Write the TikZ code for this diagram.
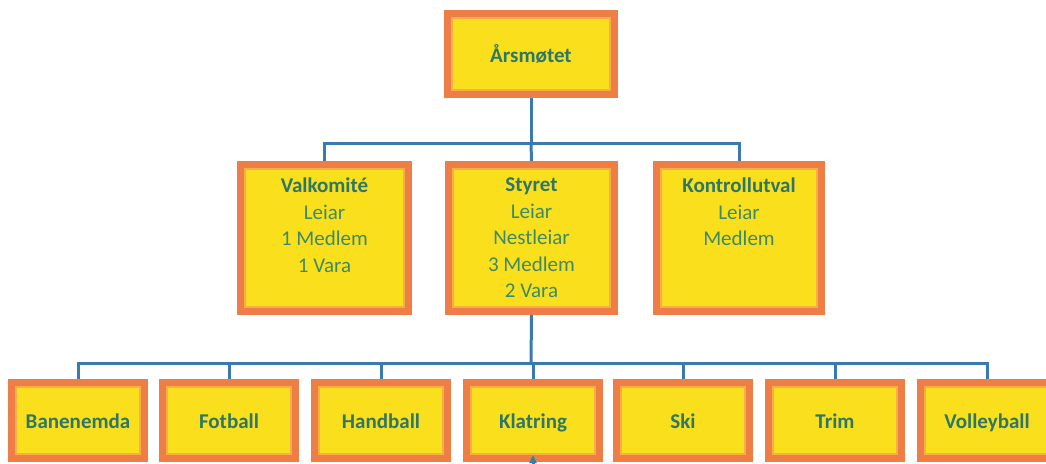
\documentclass[tikz,border=0pt]{standalone}
\usepackage{fontspec}
\setmainfont{Carlito}
\usetikzlibrary{arrows.meta}
\definecolor{byellow}{HTML}{FADF1C}
\definecolor{borange}{HTML}{EE7E45}
\definecolor{binner}{HTML}{F5AE48}
\definecolor{conncol}{HTML}{3A7BAE}
\definecolor{headcol}{HTML}{2C7767}
\definecolor{txtcol}{HTML}{3E8A66}
\tikzset{
  box/.style={draw=borange, fill=byellow, line width=7pt, inner sep=0pt},
  boxinner/.style={draw=binner, line width=2.5pt},
  conn/.style={draw=conncol, line width=3pt},
  hd/.style={font=\fontsize{21}{26.5}\selectfont\bfseries, text=headcol, align=center, anchor=base},
  tx/.style={font=\fontsize{21}{26.5}\selectfont, text=txtcol, align=center, inner sep=0pt},
}
\begin{document}
\begin{tikzpicture}[x=1pt,y=-1pt]
\useasboundingbox (0,0) rectangle (1046,463);
\fill[white] (0,0) rectangle (1046,463);
\clip (0,0) rectangle (1046,463);
% boxes (outer sizes minus line width)
\node[box, minimum width=167pt, minimum height=81pt] (ars) at (531,54) {};
\node[box, minimum width=168pt, minimum height=147pt] (valk) at (324.5,238) {};
\node[box, minimum width=166pt, minimum height=147pt] (styret) at (531.5,238) {};
\node[box, minimum width=165pt, minimum height=147pt] (kontroll) at (739,238) {};
\foreach \n/\x in {banen/78, fotball/229, handball/381, klat/533, ski/683, trim/835, volley/987}{
  \node[box, minimum width=133pt, minimum height=76pt] (\n) at (\x,420.5) {};
}
% inner lighter band
\foreach \n in {ars, valk, styret, kontroll, banen, fotball, handball, klat, ski, trim, volley}{
  \draw[boxinner] ([xshift=8pt,yshift=-8pt]\n.north west) rectangle ([xshift=-8pt,yshift=8pt]\n.south east);
}
% texts
\node[hd] (tars) at ([yshift=-8pt]ars.center) {Årsmøtet};
\node[tx, anchor=north] (tvalk) at ([yshift=-17pt]valk.north) {\textbf{\textcolor{headcol}{Valkomité}}\\Leiar\\1 Medlem\\1 Vara};
\node[tx, anchor=north] (tstyret) at ([yshift=-17pt]styret.north) {\textbf{\textcolor{headcol}{Styret}}\\Leiar\\Nestleiar\\3 Medlem\\2 Vara};
\node[tx, anchor=north] (tkontroll) at ([yshift=-17pt]kontroll.north) {\textbf{\textcolor{headcol}{Kontrollutval}}\\Leiar\\Medlem};
\foreach \n/\t in {banen/Banenemda, fotball/Fotball, handball/Handball, klat/Klatring, ski/Ski, trim/Trim, volley/Volleyball}{
  \node[hd] (t\n) at ([yshift=-8pt]\n.center) {\t};
}
% connectors top
\coordinate (j1) at (531,143);
\draw[conn] (ars.south) -- (j1);
\draw[conn] (valk.north) |- (j1) -| (kontroll.north);
\draw[conn] (j1) -- (styret.north);
% connectors bottom
\coordinate (j2) at (531,363);
\draw[conn] (styret.south) -- (j2);
\draw[conn] (banen.north) |- (j2) -| (volley.north);
\foreach \n in {fotball, handball, klat, ski, trim}{
  \draw[conn] (\n.north |- j2) -- (\n.north);
}
\coordinate (kin) at (533,480);
\draw[conn, -{Triangle[width=7pt,length=8pt]}, shorten >=-7pt] (kin) -- (klat.south);
\end{tikzpicture}
\end{document}
